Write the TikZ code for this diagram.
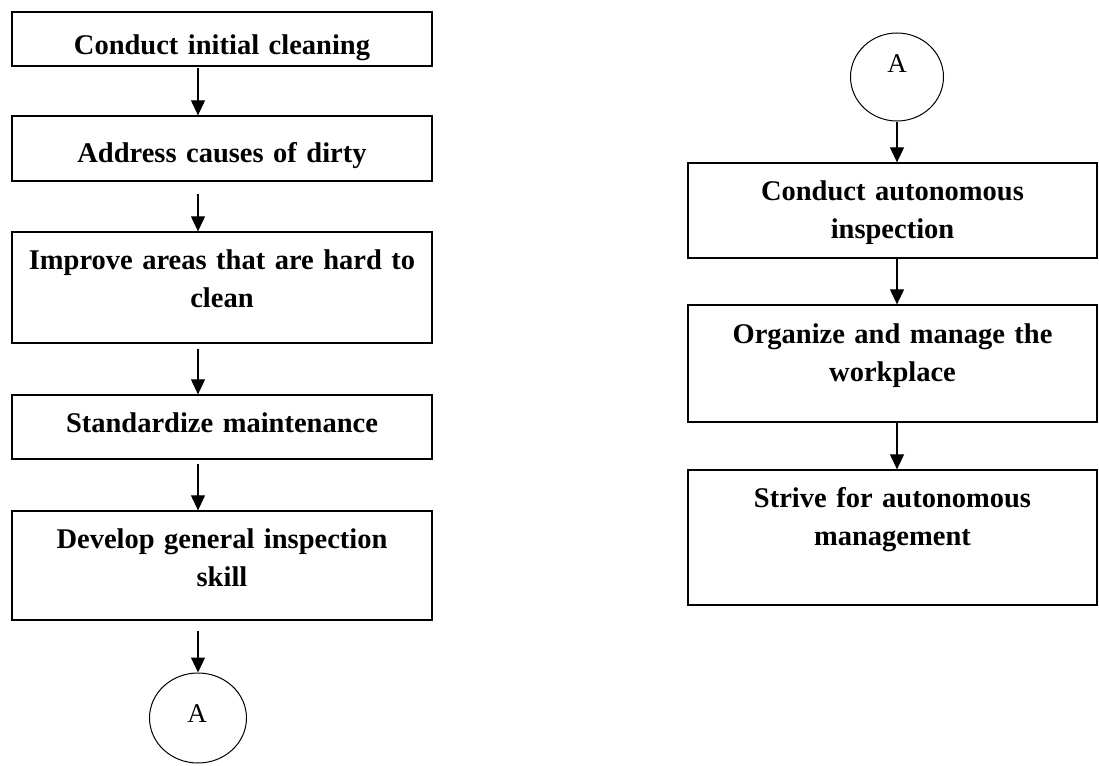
\documentclass[tikz,border=0pt]{standalone}
\usepackage{fontspec}
\setmainfont{Liberation Serif}
\usetikzlibrary{arrows.meta,shapes.geometric}
\tikzset{
  box/.style={draw=black, line width=1.3pt, rectangle, inner sep=0pt},
  conn/.style={ellipse, draw=black, line width=1pt, inner sep=0pt},
  lbl/.style={font=\bfseries\fontsize{28.5}{38}\selectfont, align=center, inner sep=0pt, anchor=base},
  albl/.style={font=\fontsize{27}{30}\selectfont, inner sep=0pt},
  arr/.style={draw=black, line width=1.1pt, -{Triangle[length=15pt,width=14pt]}}
}
\begin{document}
\begin{tikzpicture}[x=1pt,y=-1pt]
\useasboundingbox (0,0) rectangle (1099,765);
% left column boxes
\node[box, minimum width=420pt, minimum height=54pt] (b1) at (222,39) {};
\node[box, minimum width=420pt, minimum height=65pt] (b2) at (222,148.5) {};
\node[box, minimum width=420pt, minimum height=111pt] (b3) at (222,287.5) {};
\node[box, minimum width=420pt, minimum height=64pt] (b4) at (222,427) {};
\node[box, minimum width=420pt, minimum height=109pt] (b5) at (222,565.5) {};
\node[conn, minimum width=97pt, minimum height=90pt] (cL) at (198,718) {};
% left labels
\node[lbl, text width=410pt] (t1) at (222,55) {Conduct initial cleaning};
\node[lbl, text width=410pt] (t2) at (222,162) {Address causes of dirty};
\node[lbl, text width=410pt] (t3) at (222,269) {Improve areas that are hard to\\clean};
\node[lbl, text width=410pt] (t4) at (222,432) {Standardize maintenance};
\node[lbl, text width=410pt] (t5) at (222,548) {Develop general inspection\\skill};
\node[albl] (aL) at (197,714) {A};
% right column
\node[conn, minimum width=93pt, minimum height=88pt] (cR) at (897,77) {};
\node[albl] (aR) at (897,64) {A};
\node[box, minimum width=409pt, minimum height=95pt] (b6) at (892.5,210.5) {};
\node[box, minimum width=409pt, minimum height=117pt] (b7) at (892.5,363.5) {};
\node[box, minimum width=409pt, minimum height=135pt] (b8) at (892.5,537.5) {};
\node[lbl, text width=400pt] (t6) at (892.5,200) {Conduct autonomous\\inspection};
\node[lbl, text width=400pt] (t7) at (892.5,343) {Organize and manage the\\workplace};
\node[lbl, text width=400pt] (t8) at (892.5,507) {Strive for autonomous\\management};
% connectors left
\draw[arr, shorten <=1pt] (b1.south -| cL.center) -- (b2.north -| cL.center);
\draw[arr, shorten <=12pt] (b2.south -| cL.center) -- (b3.north -| cL.center);
\draw[arr, shorten <=5pt] (b3.south -| cL.center) -- (b4.north -| cL.center);
\draw[arr, shorten <=4pt] (b4.south -| cL.center) -- (b5.north -| cL.center);
\draw[arr, shorten <=10pt] (b5.south -| cL.center) -- (cL.north);
% connectors right
\draw[arr] (cR.south) -- (b6.north -| cR.south);
\draw[arr] (b6.south -| cR.south) -- (b7.north -| cR.south);
\draw[arr] (b7.south -| cR.south) -- (b8.north -| cR.south);
\end{tikzpicture}
\end{document}
